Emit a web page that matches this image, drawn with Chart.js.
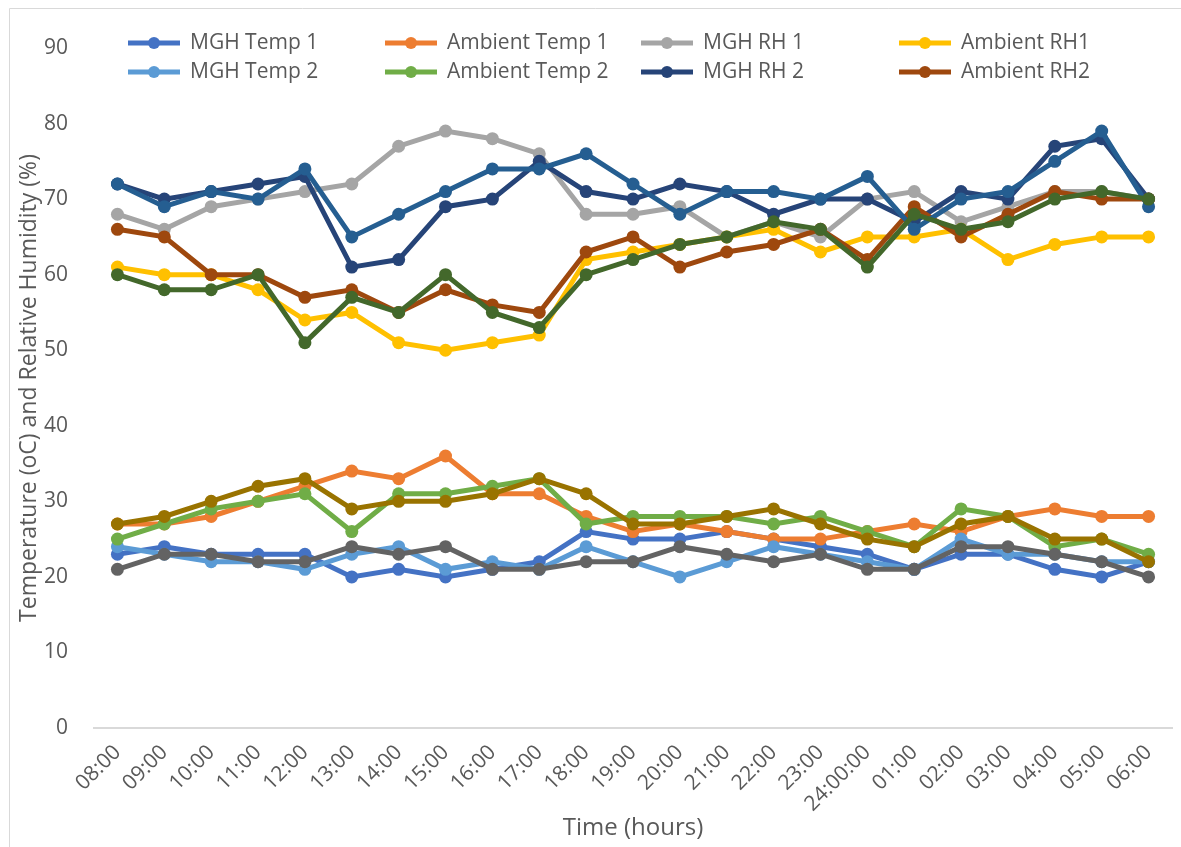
<!DOCTYPE html>
<html>
<head>
<meta charset="utf-8">
<script src="https://cdn.jsdelivr.net/npm/chart.js@4"></script>
<style>
html,body{margin:0;padding:0;background:#fff;}
#wrap{position:relative;width:1181px;height:847px;}
</style>
</head>
<body>
<div id="wrap"><canvas id="c" width="1181" height="847"></canvas></div>
<script>
const timeLabels = ["08:00","09:00","10:00","11:00","12:00","13:00","14:00","15:00","16:00","17:00","18:00","19:00","20:00","21:00","22:00","23:00","24:00:00","01:00","02:00","03:00","04:00","05:00","06:00"];

const seriesNames = ["MGH Temp 1","Ambient Temp 1","MGH RH 1","Ambient RH1","MGH Temp 2","Ambient Temp 2","MGH RH 2","Ambient RH2","MGH Temp 3","Ambient Temp 3","MGH RH 3","Ambient RH3"];

const mghTemp1     = [23,24,23,23,23,20,21,20,21,22,26,25,25,26,25,24,23,21,23,23,21,20,22];
const ambientTemp1 = [27,27,28,30,32,34,33,36,31,31,28,26,27,26,25,25,26,27,26,28,29,28,28];
const mghRH1       = [68,66,69,70,71,72,77,79,78,76,68,68,69,65,67,65,70,71,67,69,71,71,70];
const ambientRH1   = [61,60,60,58,54,55,51,50,51,52,62,63,64,65,66,63,65,65,66,62,64,65,65];
const mghTemp2     = [24,23,22,22,21,23,24,21,22,21,24,22,20,22,24,23,22,21,25,23,23,22,22];
const ambientTemp2 = [25,27,29,30,31,26,31,31,32,33,27,28,28,28,27,28,26,24,29,28,24,25,23];
const mghRH2       = [72,70,71,72,73,61,62,69,70,75,71,70,72,71,68,70,70,67,71,70,77,78,70];
const ambientRH2   = [66,65,60,60,57,58,55,58,56,55,63,65,61,63,64,66,62,69,65,68,71,70,70];
const mghTemp3     = [21,23,23,22,22,24,23,24,21,21,22,22,24,23,22,23,21,21,24,24,23,22,20];
const ambientTemp3 = [27,28,30,32,33,29,30,30,31,33,31,27,27,28,29,27,25,24,27,28,25,25,22];
const mghRH3       = [72,69,71,70,74,65,68,71,74,74,76,72,68,71,71,70,73,66,70,71,75,79,69];
const ambientRH3   = [60,58,58,60,51,57,55,60,55,53,60,62,64,65,67,66,61,68,66,67,70,71,70];

const yTicks = [0,10,20,30,40,50,60,70,80,90];

const seriesValues = [mghTemp1, ambientTemp1, mghRH1, ambientRH1, mghTemp2, ambientTemp2, mghRH2, ambientRH2, mghTemp3, ambientTemp3, mghRH3, ambientRH3];
const colors = ["#4472C4","#ED7D31","#A5A5A5","#FFC000","#5B9BD5","#70AD47","#264478","#9E480E","#636363","#997300","#255E91","#43682B"];

const FONT = "'Open Sans', 'Noto Sans', sans-serif";
const TXT = "#595959";

const datasets = seriesValues.map((vals, i) => ({
  label: seriesNames[i],
  data: vals,
  borderColor: colors[i],
  backgroundColor: colors[i],
  pointBackgroundColor: colors[i],
  pointBorderColor: colors[i],
  borderWidth: 5,
  pointRadius: 6.5,
  pointBorderWidth: 0,
  tension: 0,
  fill: false,
  order: seriesValues.length - i
}));

const legendPlugin = {
  id: 'gridLegend',
  afterDraw(chart) {
    const ctx = chart.ctx;
    ctx.save();
    ctx.strokeStyle = '#d9d9d9';
    ctx.lineWidth = 1;
    ctx.beginPath();
    ctx.moveTo(9.5, 847); ctx.lineTo(9.5, 8.5); ctx.lineTo(1181, 8.5);
    ctx.stroke();
    const colX = [128, 385, 641, 899];
    const rowY = [43, 72];
    ctx.font = "21px " + FONT;
    ctx.textBaseline = 'middle';
    ctx.textAlign = 'left';
    for (let i = 0; i < 8; i++) {
      const ds = chart.data.datasets[i];
      const x = colX[i % 4], y = rowY[Math.floor(i / 4)];
      ctx.strokeStyle = ds.borderColor;
      ctx.lineWidth = 5;
      ctx.beginPath(); ctx.moveTo(x, y); ctx.lineTo(x + 52, y); ctx.stroke();
      ctx.fillStyle = ds.borderColor;
      ctx.beginPath(); ctx.arc(x + 26, y, 6, 0, Math.PI * 2); ctx.fill();
      ctx.fillStyle = TXT;
      ctx.fillText(ds.label, x + 62, y);
    }
    ctx.restore();
  }
};

new Chart(document.getElementById('c'), {
  type: 'line',
  data: { labels: timeLabels, datasets },
  options: {
    responsive: false,
    animation: false,
    layout: { padding: { left: 16, right: 9, top: 48, bottom: 4 } },
    plugins: { legend: { display: false }, tooltip: { enabled: false } },
    scales: {
      x: {
        offset: true,
        grid: { display: false },
        border: { display: true, color: '#d9d9d9', width: 2 },
        ticks: { color: TXT, font: { family: FONT, size: 21 }, minRotation: 45, maxRotation: 45, autoSkip: false, padding: 4 },
        title: { display: true, text: 'Time (hours)', color: TXT, font: { family: FONT, size: 24 }, padding: { top: 0, bottom: 0 } },
        afterFit(scale) { scale.height = 847 - 728 - 4; }
      },
      y: {
        min: 0, max: 90,
        grid: { display: false },
        border: { display: false },
        afterBuildTicks(scale) { scale.ticks = yTicks.map(v => ({ value: v })); },
        ticks: { color: TXT, font: { family: FONT, size: 21 }, padding: 18 },
        title: { display: true, text: 'Temperature (oC) and Relative Humidity (%)', color: TXT, font: { family: FONT, size: 23 }, padding: { top: 0, bottom: 0 } },
        afterFit(scale) { scale.width = 78; }
      }
    }
  },
  plugins: [legendPlugin]
});
</script>
</body>
</html>
